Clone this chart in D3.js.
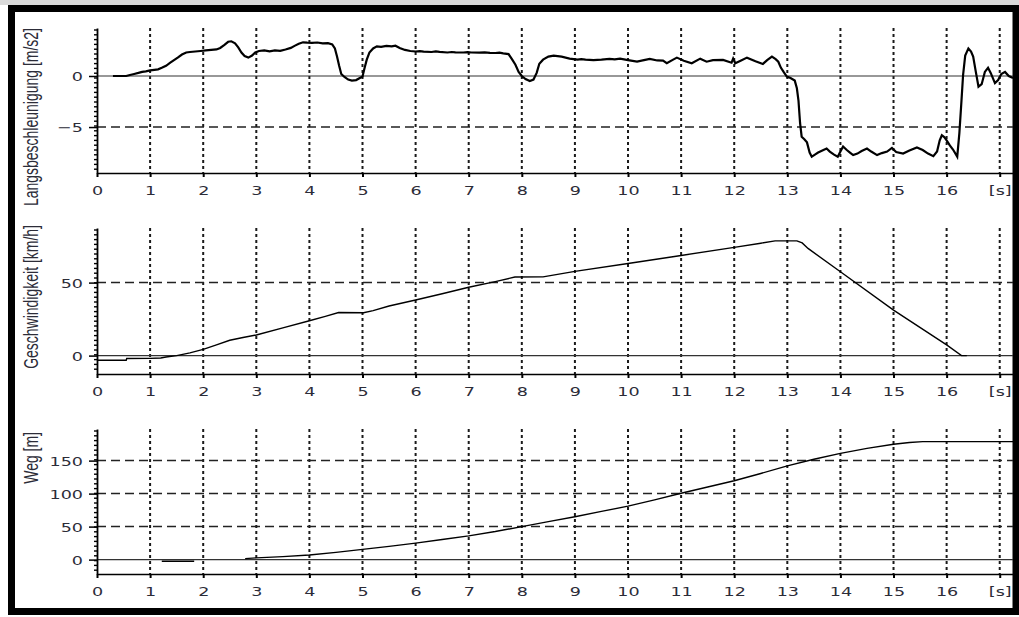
<!DOCTYPE html>
<html>
<head>
<meta charset="utf-8">
<script src="https://cdn.jsdelivr.net/npm/d3@7"></script>
<style>
  body { margin: 0; background: #fff; }
  svg { display: block; }
</style>
</head>
<body>
<svg id="chart" width="1019" height="617"></svg>
<script>
// ---- data -----------------------------------------------------------
const timeTicks = d3.range(0, 18);          // 0 … 17 s (17 carries the unit)
const timeUnitLabel = "[s]";

const accelTicks = [-5, 0];
const speedTicks = [0, 50];
const distanceTicks = [0, 50, 100, 150];

// longitudinal acceleration [m/s2] : [time s, value]
const accel = [
  [0.30,0.00],[0.55,0.00],[0.62,0.10],[0.70,0.20],[0.78,0.30],[0.85,0.40],[0.92,0.45],[1.00,0.55],
  [1.08,0.60],[1.15,0.65],[1.22,0.80],[1.30,1.00],[1.38,1.30],[1.45,1.55],[1.52,1.80],[1.60,2.10],
  [1.68,2.30],[1.75,2.35],[1.85,2.40],[1.95,2.45],[2.05,2.50],[2.15,2.55],[2.25,2.60],[2.32,2.75],
  [2.40,3.05],[2.47,3.35],[2.53,3.40],[2.60,3.20],[2.66,2.80],[2.72,2.30],[2.78,1.95],[2.85,1.80],
  [2.92,2.00],[2.98,2.30],[3.05,2.45],[3.15,2.50],[3.25,2.42],[3.35,2.50],[3.45,2.47],[3.55,2.60],
  [3.65,2.75],[3.72,2.95],[3.80,3.15],[3.88,3.30],[3.96,3.27],[4.05,3.25],[4.15,3.28],[4.25,3.20],
  [4.35,3.22],[4.43,3.10],[4.48,2.70],[4.52,1.90],[4.56,1.00],[4.60,0.20],[4.66,-0.10],[4.73,-0.35],
  [4.80,-0.45],[4.88,-0.40],[4.95,-0.20],[5.00,-0.05],[5.04,0.80],[5.08,1.60],[5.13,2.30],[5.20,2.70],
  [5.27,2.90],[5.35,2.85],[5.45,2.95],[5.55,2.90],[5.62,2.97],[5.70,2.75],[5.80,2.55],[5.90,2.45],
  [6.00,2.40],[6.08,2.44],[6.15,2.38],[6.30,2.35],[6.38,2.41],[6.45,2.36],[6.60,2.30],[6.68,2.35],
  [6.75,2.32],[6.90,2.30],[6.98,2.34],[7.05,2.30],[7.20,2.28],[7.30,2.32],[7.40,2.26],[7.50,2.25],
  [7.58,2.28],[7.65,2.22],[7.75,2.15],[7.82,1.60],[7.88,1.10],[7.94,0.40],
  [8.00,0.00],[8.07,-0.30],[8.15,-0.50],[8.22,-0.35],[8.28,0.30],[8.33,1.20],[8.40,1.60],[8.50,1.90],
  [8.60,2.00],[8.75,1.90],[8.90,1.70],[9.05,1.60],[9.12,1.65],[9.20,1.60],[9.35,1.55],[9.50,1.60],[9.65,1.68],
  [9.75,1.62],[9.85,1.70],[10.00,1.55],[10.17,1.40],[10.30,1.55],[10.41,1.68],[10.55,1.52],[10.66,1.50],[10.73,1.25],
  [10.85,1.60],[10.92,1.80],[11.05,1.50],[11.20,1.25],[11.36,1.70],[11.48,1.40],[11.60,1.55],[11.79,1.58],
  [11.95,1.30],[11.98,1.70],[12.02,1.25],[12.12,1.50],[12.24,1.80],[12.40,1.45],[12.54,1.18],[12.62,1.55],
  [12.71,1.90],[12.78,1.65],[12.83,1.40],[12.88,0.80],[12.93,0.40],[12.99,-0.05],[13.06,-0.20],[13.14,-0.45],
  [13.18,-1.20],[13.21,-2.40],[13.24,-4.60],[13.27,-5.95],[13.32,-6.20],[13.37,-6.50],[13.42,-7.50],[13.46,-7.90],
  [13.52,-7.70],[13.58,-7.50],[13.62,-7.40],[13.68,-7.25],[13.74,-7.10],[13.80,-7.40],[13.88,-7.70],[13.95,-7.90],
  [14.00,-7.40],[14.05,-6.90],[14.12,-7.25],[14.18,-7.50],[14.24,-7.75],[14.32,-7.60],[14.40,-7.35],[14.50,-7.10],
  [14.58,-7.40],[14.69,-7.75],[14.78,-7.55],[14.88,-7.40],[14.97,-7.05],[15.05,-7.45],[15.18,-7.60],[15.30,-7.30],
  [15.44,-7.00],[15.55,-7.25],[15.65,-7.60],[15.75,-7.85],[15.82,-7.40],[15.87,-6.30],[15.91,-5.80],[15.96,-6.00],
  [16.00,-6.30],[16.06,-6.80],[16.12,-7.20],[16.20,-7.90],[16.24,-5.60],[16.28,-2.40],[16.31,0.10],[16.35,2.00],
  [16.41,2.70],[16.46,2.40],[16.50,1.90],[16.55,0.40],[16.60,-1.05],[16.66,-0.80],[16.72,0.40],[16.78,0.80],
  [16.83,0.30],[16.91,-0.70],[16.97,-0.40],[17.03,0.20],[17.10,0.40],[17.17,0.00],[17.25,-0.20]
];

// vehicle speed [km/h]
const speed = [
  [0,-3.2],[0.55,-3.2],[0.56,-2.0],[1.0,-1.9],[1.2,-1.6],[1.3,-1.0],[1.5,0],[1.75,1.9],[2.0,4.3],
  [2.25,7.4],[2.5,10.5],[2.75,12.4],[3.0,14.1],[3.5,19.0],[4.0,23.9],[4.3,26.9],[4.55,29.5],[5.02,29.4],
  [5.2,30.8],[5.5,34.0],[6.0,38.1],[6.5,42.4],[7.0,46.8],[7.5,50.7],[7.87,53.8],[8.4,53.9],[9.0,57.7],
  [10.0,63.1],[11.0,68.6],[12.0,74.1],[12.5,77.0],[12.77,78.6],[13.18,78.6],[13.28,77.2],[13.39,73.4],
  [14.0,57.4],[15.0,31.2],[16.0,7.3],[16.28,0],[16.38,0]
];

// travelled distance [m]; null marks a gap in the record
const distance = [
  [1.22,-2.5],[1.83,-2.5],[1.84,null],[2.79,1.5],[3.0,2.6],[3.5,4.6],[4.0,7.0],[4.5,11.0],[5.0,15.5],
  [5.5,20.0],[6.0,25.0],[6.5,30.5],[7.0,36.0],[7.5,42.5],[8.0,50.0],[8.5,57.5],[9.0,65.0],[9.5,73.0],
  [10.0,81.0],[10.5,90.5],[11.0,100.5],[11.5,110.0],[12.0,119.5],[12.5,130.5],[13.0,142.0],[13.5,152.0],
  [14.0,161.0],[14.5,168.5],[15.0,174.8],[15.3,177.4],[15.55,178.7],[16.0,178.8],[17.25,178.8]
];

// ---- layout -----------------------------------------------------------
const W = 1019, H = 617;
const left = 97, right = 1013;
const STRETCH = 1.35;                 // wide screen-font look of the labels

const svg = d3.select("#chart");
const x = d3.scaleLinear().domain([0, 17.25]).range([left, right]);

// window frame
svg.append("rect").attr("width", W).attr("height", 5).attr("fill", "#d9d9d9");
svg.append("rect")
  .attr("x", 11.5).attr("y", 8.5).attr("width", 1004.5).attr("height", 603)
  .attr("fill", "#fff").attr("stroke", "#000").attr("stroke-width", 7);

const panels = [
  { label: "Langsbeschleunigung [m/s2]", data: accel,    domain: [-9.5, 4.7],    ticks: accelTicks,    top: 28,  bottom: 173, labelY: 28,  width: 2.2 },
  { label: "Geschwindigkeit [km/h]",     data: speed,    domain: [-12.6, 87.4],  ticks: speedTicks,    top: 228, bottom: 374, labelY: 225, width: 1.4 },
  { label: "Weg [m]",                    data: distance, domain: [-21.8, 197.9], ticks: distanceTicks, top: 429, bottom: 574, labelY: 432, width: 1.4 }
];

const tickFont = "'DejaVu Sans', Verdana, sans-serif";
const textColor = "#2c2c38";

panels.forEach((p, i) => {
  const y = d3.scaleLinear().domain(p.domain).range([p.bottom, p.top]);
  const g = svg.append("g");

  // vertical dotted grid at every second
  g.selectAll(".vgrid").data(timeTicks.filter(t => t > 0)).join("line")
    .attr("x1", d => x(d)).attr("x2", d => x(d))
    .attr("y1", p.top).attr("y2", p.bottom)
    .attr("stroke", "#1a1a1a").attr("stroke-width", 2)
    .attr("stroke-dasharray", "3,3");

  // dashed horizontal grid
  g.selectAll(".hgrid").data(p.ticks.filter(v => v !== 0)).join("line")
    .attr("x1", left).attr("x2", right)
    .attr("y1", d => y(d)).attr("y2", d => y(d))
    .attr("stroke", "#222").attr("stroke-width", 1.5)
    .attr("stroke-dasharray", "9,5");

  // zero reference line
  g.append("line")
    .attr("x1", left).attr("x2", right)
    .attr("y1", y(0)).attr("y2", y(0))
    .attr("stroke", "#333").attr("stroke-width", 1.2);

  // signal trace
  const clipId = "clip" + i;
  svg.append("clipPath").attr("id", clipId).append("rect")
    .attr("x", left).attr("y", p.top).attr("width", right - left).attr("height", p.bottom - p.top);
  const line = d3.line()
    .defined(d => d[1] !== null)
    .x(d => x(d[0])).y(d => y(d[1]));
  g.append("path")
    .datum(p.data)
    .attr("clip-path", `url(#${clipId})`)
    .attr("d", line)
    .attr("fill", "none").attr("stroke", "#000")
    .attr("stroke-width", p.width).attr("stroke-linejoin", "miter");

  // time axis
  const xAxis = d3.axisBottom(x)
    .tickValues(timeTicks)
    .tickSize(4).tickSizeOuter(0)
    .tickFormat(t => t === 17 ? timeUnitLabel : String(t));
  const gx = g.append("g").attr("transform", `translate(0,${p.bottom})`).call(xAxis);
  gx.select(".domain").attr("stroke", "#000").attr("stroke-width", 1.6);
  gx.selectAll(".tick line").attr("stroke", "#000").attr("stroke-width", 2);
  gx.selectAll(".tick text")
    .attr("y", null).attr("dy", null)
    .attr("transform", `translate(0,22) scale(${STRETCH},1)`)
    .attr("fill", textColor)
    .style("font-family", tickFont).style("font-size", "13px");

  // value axis
  const yAxis = d3.axisLeft(y)
    .tickValues(p.ticks)
    .tickSize(8).tickSizeOuter(0)
    .tickFormat(d3.format("d"));
  const gy = g.append("g").attr("transform", `translate(${left},0)`).call(yAxis);
  gy.select(".domain").attr("stroke", "#000").attr("stroke-width", 1.8);
  gy.selectAll(".tick line").attr("stroke", "#000").attr("stroke-width", 1.5);
  gy.selectAll(".tick text")
    .attr("x", null).attr("dy", null)
    .attr("transform", `translate(-14,4.6) scale(${STRETCH},1)`)
    .attr("fill", textColor)
    .style("font-family", tickFont).style("font-size", "13px");

  // minor tick marks along the value axis
  g.selectAll(".minor").data(d3.range(p.top + 2, p.bottom, 4.8)).join("line")
    .attr("x1", left - 3).attr("x2", left)
    .attr("y1", d => d).attr("y2", d => d)
    .attr("stroke", "#000").attr("stroke-width", 1.4);

  // axis title
  g.append("text")
    .attr("transform", `translate(38,${p.labelY}) scale(1.45,1) rotate(-90)`)
    .attr("text-anchor", "end")
    .attr("fill", textColor)
    .style("font-family", "'Liberation Sans', Arial, sans-serif")
    .style("font-size", "14px")
    .text(p.label);
});
</script>
</body>
</html>
